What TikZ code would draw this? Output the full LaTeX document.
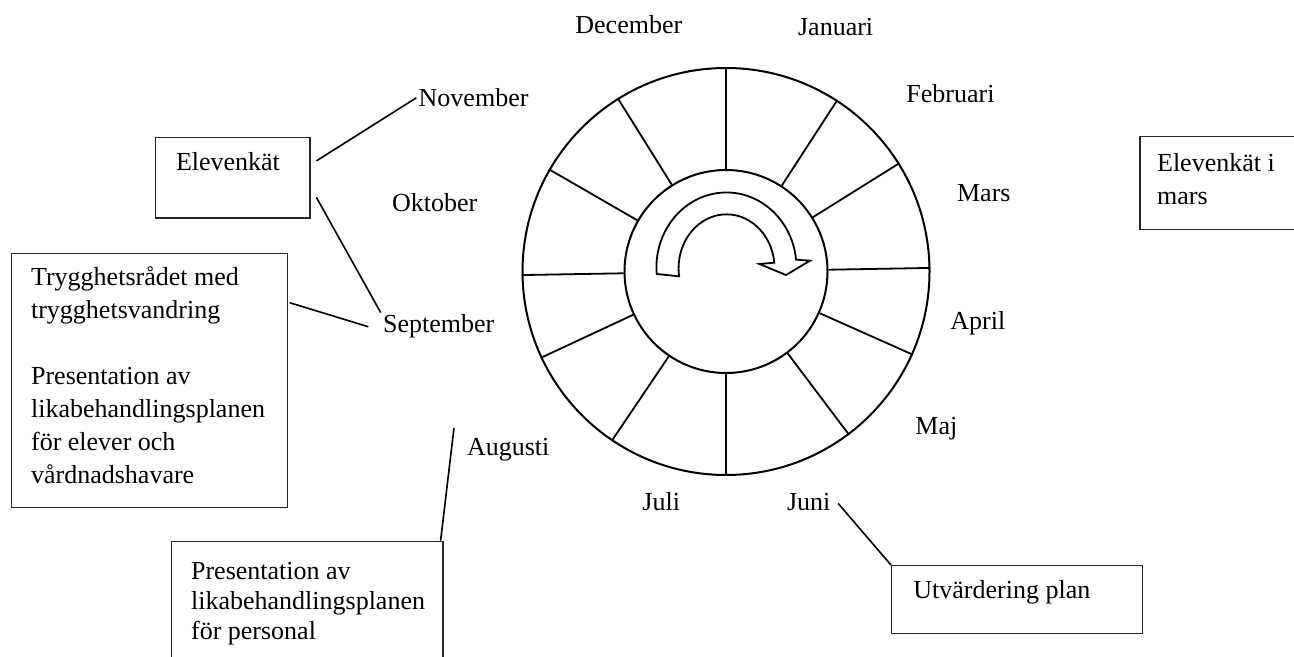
\documentclass[tikz,border=0pt]{standalone}
\usepackage{fontspec}
\setmainfont{Liberation Serif}
\usepackage{tikz}
\usetikzlibrary{positioning}
\newcommand{\plantext}{\fontsize{13}{16.5}\selectfont}
\newcommand{\plantight}{\fontsize{13}{15}\selectfont}

\begin{document}
\begin{tikzpicture}[x=0.5pt, y=-0.5pt, every node/.style={font=\plantext}]
    \tikzstyle{month} = [anchor=base west, inner sep=1pt]
    \tikzstyle{card} = [rectangle, draw=black!85, line width=0.7pt, anchor=north west, inner sep=0pt]
    \tikzstyle{cardtext} = [anchor=north west, inner sep=0pt, align=left]
    \tikzstyle{ring} = [circle, draw, line width=1pt, inner sep=0pt]
    \tikzstyle{link} = [line width=0.8pt]
    \clip (0,0) rectangle (1294,657);

    % year wheel
    \node (rim) [ring, minimum size=203.5pt] at (726,271.5) {};
    \node (hub) [ring, minimum size=101.5pt] at (726,271.5) {};
    \foreach \a in {90,57.5,32.5,1.8,336.3,307.5,270.7,236.9,205.3,181.2,150.6,122.3}
        \draw [line width=0.9pt] (hub.\a) -- (rim.\a);

    % turning arrow in the hub
    \draw [line width=0.9pt, fill=white] (656.7,274)
        arc[start angle=175, end angle=354, x radius=70, y radius=75]
        -- (810,260.7) -- (786,275) -- (759.3,264) -- (774.3,262.7)
        arc[start angle=354, end angle=171.5, x radius=48, y radius=54] -- cycle;

    % months
    \node (dec) [month] at (573,33.3) {December};
    \node (jan) [month] at (795.7,36) {Januari};
    \node (feb) [month] at (904,102.3) {Februari};
    \node (mar) [month] at (954.7,201.7) {Mars};
    \node (apr) [month] at (948,329) {April};
    \node (maj) [month] at (913,434) {Maj};
    \node (jun) [month] at (784.7,510) {Juni};
    \node (jul) [month] at (640,510) {Juli};
    \node (aug) [month] at (464.7,455) {Augusti};
    \node (sep) [month] at (380.7,333) {September};
    \node (okt) [month] at (389.7,211.7) {Oktober};
    \node (nov) [month] at (416.3,106.7) {November};

    % activity boxes
    \node (enk) [card, minimum width=77.2pt, minimum height=40.2pt] at (155,137) {};
    \node (enktxt) [cardtext] at ([xshift=10.3pt, yshift=-4.95pt]enk.north west) {\strut Elevenkät};

    \node (tryg) [card, minimum width=138pt, minimum height=127pt] at (10.7,253) {};
    \node (trygtxt) [cardtext] at ([xshift=10pt, yshift=-4.45pt]tryg.north west)
        {\strut Trygghetsrådet med\\ trygghetsvandring\\[16.5pt] Presentation av\\
         likabehandlingsplanen\\ för elever och\\ vårdnadshavare};

    \node (pers) [card, minimum width=135.7pt, minimum height=70pt] at (171,540.7) {};
    \node (perstxt) [cardtext, font=\plantight] at ([xshift=9.85pt, yshift=-8.5pt]pers.north west)
        {\strut Presentation av\\ likabehandlingsplanen\\ för personal};

    \node (utv) [card, minimum width=125.4pt, minimum height=33.9pt] at (891,565) {};
    \node (utvtxt) [cardtext] at ([xshift=11pt, yshift=-4.95pt]utv.north west) {\strut Utvärdering plan};

    \node (emk) [card, minimum width=85pt, minimum height=46.5pt] at (1139.3,136) {};
    \node (emktxt) [cardtext] at ([xshift=8.7pt, yshift=-5.95pt]emk.north west) {\strut Elevenkät i\\ mars};

    % links between boxes and months
    \draw [link] ([xshift=2.8pt, yshift=8.5pt]enk.east) -- (nov.west);
    \draw [link] ([xshift=2.8pt, yshift=-9.75pt]enk.east) -- (sep.north west);
    \draw [link] ([xshift=0.8pt, yshift=-24.85pt]tryg.north east) -- ([xshift=-6.2pt]sep.west);
    \draw [link] ([xshift=-1.6pt]pers.north east) -- ([xshift=-5.35pt, yshift=3.75pt]aug.north west);
    \draw [link] ([xshift=2.65pt, yshift=-0.95pt]jun.east) -- (utv.north west);
\end{tikzpicture}
\end{document}
